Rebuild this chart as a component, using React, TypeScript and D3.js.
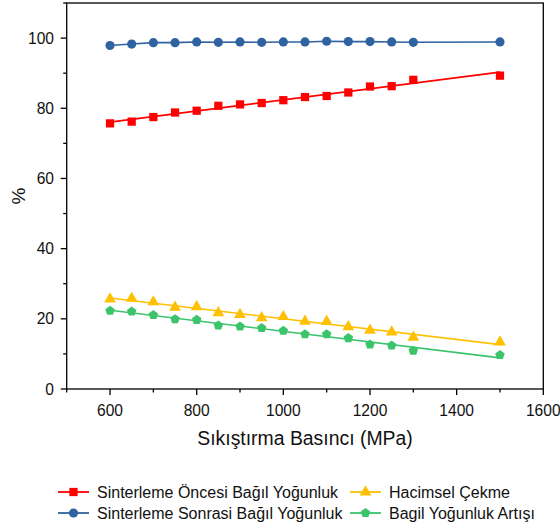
import React from "react";
import * as d3 from "d3";

const pressures = [600, 650, 700, 750, 800, 850, 900, 950, 1000, 1050, 1100, 1150, 1200, 1250, 1300, 1500];
const preSinter = [75.7, 76.2, 77.5, 78.8, 79.3, 80.7, 81.1, 81.5, 82.3, 83.2, 83.5, 84.5, 86.2, 86.3, 88.1, 89.3];
const postSinter = [97.9, 98.3, 98.7, 98.7, 98.9, 98.8, 98.9, 98.8, 98.9, 98.9, 99.1, 99.0, 99.0, 98.9, 98.8, 98.9];
const shrinkage = [25.6, 25.8, 24.8, 23.3, 23.4, 21.7, 21.2, 20.3, 20.6, 19.3, 19.2, 17.7, 16.7, 16.2, 14.7, 13.4];
const densityGain = [22.3, 22.1, 21.1, 19.9, 19.7, 18.1, 17.8, 17.4, 16.6, 15.6, 15.6, 14.5, 12.7, 12.4, 10.9, 9.7];

const xTicks = [600, 800, 1000, 1200, 1400, 1600];
const xMinor = [500, 700, 900, 1100, 1300, 1500];
const yTicks = [0, 20, 40, 60, 80, 100];
const yMinor = [10, 30, 50, 70, 90, 110];

const W = 560, H = 529;
const L = 66.7, R = 543.3, T = 3, B = 389;
const x = d3.scaleLinear().domain([500, 1600]).range([L, R]);
const y = d3.scaleLinear().domain([0, 110]).range([B, T]);

const font = "'Liberation Sans', Arial, sans-serif";

function fit(xs: number[], ys: number[]) {
  const mx = d3.mean(xs)!, my = d3.mean(ys)!;
  let num = 0, den = 0;
  xs.forEach((v, i) => { num += (v - mx) * (ys[i] - my); den += (v - mx) ** 2; });
  const b = num / den, a = my - b * mx;
  return (v: number) => a + b * v;
}

type Sym = "square" | "circle" | "triangle" | "pentagon";
const symMap: Record<Sym, d3.SymbolType> = {
  square: d3.symbolSquare,
  circle: d3.symbolCircle,
  triangle: d3.symbolTriangle,
  pentagon: d3.symbolCircle,
};

function Marker({ cx, cy, sym, color }: { cx: number; cy: number; sym: Sym; color: string }) {
  if (sym === "pentagon") {
    const r = 5;
    const pts = d3.range(5).map((i) => {
      const a = -Math.PI / 2 + (i * 2 * Math.PI) / 5;
      return [cx + r * Math.cos(a), cy + r * Math.sin(a)].join(",");
    });
    return <polygon points={pts.join(" ")} fill={color} />;
  }
  const sizes: Record<Sym, number> = { square: 68, circle: 66, triangle: 60, pentagon: 0 };
  const p = d3.symbol().type(symMap[sym]).size(sizes[sym])()!;
  return <path d={p} transform={`translate(${cx},${cy})`} fill={color} />;
}

const series = [
  { name: "Sinterleme Öncesi Bağıl Yoğunluk", data: preSinter, color: "#ff0000", sym: "square" as Sym, fit: true },
  { name: "Sinterleme Sonrasi Bağıl Yoğunluk", data: postSinter, color: "#2f62a0", sym: "circle" as Sym, fit: false },
  { name: "Hacimsel Çekme", data: shrinkage, color: "#ffc000", sym: "triangle" as Sym, fit: true },
  { name: "Bagil Yoğunluk Artışı", data: densityGain, color: "#3cc46c", sym: "pentagon" as Sym, fit: true },
];

export default function App() {
  const line = d3.line<[number, number]>().x((d) => x(d[0])).y((d) => y(d[1]));
  const legendPos = [
    { lx: 58, ly: 492 },
    { lx: 58, ly: 513 },
    { lx: 350, ly: 492 },
    { lx: 350, ly: 513 },
  ];
  return (
    <svg width={W} height={H} style={{ position: "absolute", left: 0, top: 0, background: "#fff" }}>
      <rect x={0} y={0} width={W} height={H} fill="#fff" />
      {series.map((s) => {
        let d: string;
        if (s.fit) {
          const f = fit(pressures, s.data);
          d = line([[600, f(600)], [1500, f(1500)]])!;
        } else {
          d = line(pressures.map((p, i) => [p, s.data[i]] as [number, number]))!;
        }
        return (
          <g key={s.name}>
            <path d={d} fill="none" stroke={s.color} strokeWidth={1.6} />
            {pressures.map((p, i) => (
              <Marker key={p} cx={x(p)} cy={y(s.data[i])} sym={s.sym} color={s.color} />
            ))}
          </g>
        );
      })}
      {/* frame */}
      <rect x={L} y={T} width={R - L} height={B - T} fill="none" stroke="#000" strokeWidth={1.3} />
      {/* x ticks */}
      {xTicks.map((t) => (
        <g key={"x" + t}>
          <line x1={x(t)} x2={x(t)} y1={B} y2={B + 6} stroke="#000" strokeWidth={1.3} />
          <text x={x(t)} y={416} textAnchor="middle" fontFamily={font} fontSize={15.6} fill="#111">{t}</text>
        </g>
      ))}
      {xMinor.map((t) => (
        <line key={"xm" + t} x1={x(t)} x2={x(t)} y1={B} y2={B + 3.5} stroke="#000" strokeWidth={1.3} />
      ))}
      {yTicks.map((t) => (
        <g key={"y" + t}>
          <line x1={L - 6} x2={L} y1={y(t)} y2={y(t)} stroke="#000" strokeWidth={1.3} />
          <text x={54} y={y(t) + 5.5} textAnchor="end" fontFamily={font} fontSize={15.6} fill="#111">{t}</text>
        </g>
      ))}
      {yMinor.map((t) => (
        <line key={"ym" + t} x1={L - 3.5} x2={L} y1={y(t)} y2={y(t)} stroke="#000" strokeWidth={1.3} />
      ))}
      <text x={305} y={445} textAnchor="middle" fontFamily={font} fontSize={19.4} fill="#111">Sıkıştırma Basıncı (MPa)</text>
      <text transform={`translate(25,196) rotate(-90)`} textAnchor="middle" fontFamily={font} fontSize={19} fill="#111">%</text>
      {series.map((s, i) => {
        const { lx, ly } = legendPos[i];
        return (
          <g key={"lg" + i}>
            <line x1={lx} x2={lx + 31} y1={ly} y2={ly} stroke={s.color} strokeWidth={1.8} />
            <Marker cx={lx + 15.5} cy={ly} sym={s.sym} color={s.color} />
            <text x={lx + 39} y={ly + 5.5} fontFamily={font} fontSize={16} fill="#111">{s.name}</text>
          </g>
        );
      })}
    </svg>
  );
}
